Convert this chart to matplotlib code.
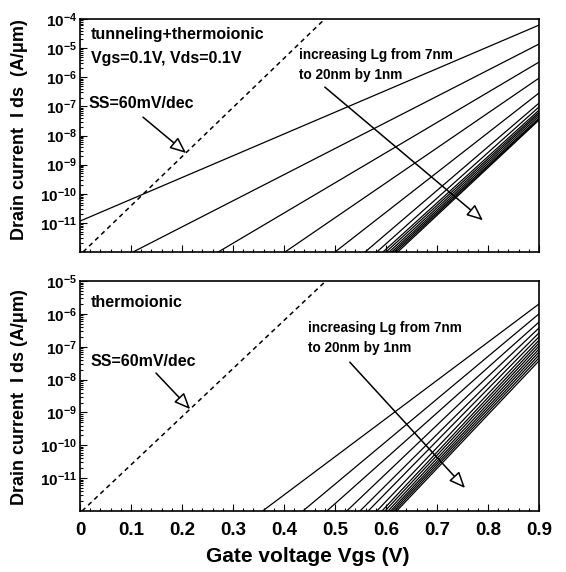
import numpy as np
import matplotlib
matplotlib.use('Agg')
import matplotlib.pyplot as plt
from matplotlib import font_manager
from matplotlib.ticker import (FixedLocator, FixedFormatter, MultipleLocator,
                               LogLocator, NullFormatter)

plt.rcParams['font.family'] = ['Liberation Sans', 'DejaVu Sans']
plt.rcParams['font.weight'] = 'bold'
plt.rcParams['mathtext.fontset'] = 'custom'
plt.rcParams['mathtext.rm'] = 'Liberation Sans:bold'
plt.rcParams['mathtext.bf'] = 'Liberation Sans:bold'
plt.rcParams['mathtext.it'] = 'Liberation Sans:bold:italic'

# ---------------- data ----------------
lg_nm = list(range(7, 21))          # gate length 7..20 nm
v_end = 0.9                         # right end of every curve (V)

# tunneling + thermoionic panel: start point of each straight log-line, value at 0.9 V
top_v_start = [0.0, 0.104, 0.271, 0.402, 0.500, 0.559, 0.582,
               0.594, 0.600, 0.606, 0.611, 0.615, 0.619, 0.623]
top_i_start = [1.15e-11, 1e-12, 1e-12, 1e-12, 1e-12, 1e-12, 1e-12,
               1e-12, 1e-12, 1e-12, 1e-12, 1e-12, 1e-12, 1e-12]
top_i_end = [6.17e-5, 1.38e-5, 3.31e-6, 9.33e-7, 2.88e-7, 1.29e-7, 9.55e-8,
             7.41e-8, 6.31e-8, 5.50e-8, 4.68e-8, 3.98e-8, 3.63e-8, 3.39e-8]

# thermoionic panel
bot_v_start = [0.358, 0.437, 0.484, 0.523, 0.549, 0.565, 0.582,
               0.592, 0.598, 0.604, 0.609, 0.613, 0.617, 0.621]
bot_i_start = [1e-12] * 14
bot_i_end = [2.00e-6, 1.00e-6, 5.62e-7, 3.72e-7, 2.63e-7, 2.00e-7, 1.58e-7,
             1.29e-7, 1.05e-7, 8.51e-8, 6.92e-8, 5.62e-8, 4.57e-8, 3.72e-8]

# SS = 60 mV/dec reference lines (dashed)
top_ss_v = [0.006, 0.480]
top_ss_i = [1e-12, 1e-4]
bot_ss_v = [0.004, 0.482]
bot_ss_i = [1e-12, 1e-5]

x_ticks = [0.0, 0.1, 0.2, 0.3, 0.4, 0.5, 0.6, 0.7, 0.8, 0.9]
x_labels = ['0', '0.1', '0.2', '0.3', '0.4', '0.5', '0.6', '0.7', '0.8', '0.9']
top_exps = [-11, -10, -9, -8, -7, -6, -5, -4]
bot_exps = [-11, -10, -9, -8, -7, -6, -5]

# narrow font for the "increasing Lg" notes, if available
_names = {f.name for f in font_manager.fontManager.ttflist}
if 'Liberation Sans Narrow' in _names:
    narrow_family = ['Liberation Sans Narrow', 'Liberation Sans']
    narrow_size = 11.3
else:
    narrow_family = ['Liberation Sans', 'DejaVu Sans']
    narrow_size = 9.8

# ---------------- figure ----------------
W, H = 566, 572
fig = plt.figure(figsize=(W / 100, H / 100), dpi=100)
fig.patch.set_facecolor('white')


def px_axes(left, top, right, bottom):
    return fig.add_axes([left / W, 1 - bottom / H, (right - left) / W, (bottom - top) / H])


ax_top = px_axes(80, 19, 539, 252)
ax_bot = px_axes(80, 281, 539, 511)


def style_axis(ax, ymin, ymax, exps, show_x):
    ax.set_xlim(0, 0.9)
    ax.set_yscale('log')
    ax.set_ylim(ymin, ymax)
    ax.xaxis.set_major_locator(FixedLocator(x_ticks))
    ax.xaxis.set_minor_locator(MultipleLocator(0.02))
    if show_x:
        ax.xaxis.set_major_formatter(FixedFormatter(x_labels))
    else:
        ax.xaxis.set_major_formatter(NullFormatter())
    ax.yaxis.set_major_locator(FixedLocator([10.0 ** e for e in exps]))
    ax.yaxis.set_major_formatter(FixedFormatter([r'$\mathbf{10^{%d}}$' % e for e in exps]))
    ax.yaxis.set_minor_locator(LogLocator(base=10, subs=np.arange(2, 10), numticks=50))
    ax.yaxis.set_minor_formatter(NullFormatter())
    ax.tick_params(which='both', direction='in', top=False, right=False, width=0.8)
    ax.tick_params(which='major', length=5)
    ax.tick_params(which='minor', length=2.5)
    ax.tick_params(axis='y', which='major', labelsize=11, pad=2)
    ax.tick_params(axis='x', which='major', labelsize=13.5, pad=8)
    for s in ax.spines.values():
        s.set_linewidth(1.2)


style_axis(ax_top, 1e-12, 1e-4, top_exps, False)
style_axis(ax_bot, 1e-12, 1e-5, bot_exps, True)

for vs, i0, i1 in zip(top_v_start, top_i_start, top_i_end):
    ax_top.plot([vs, v_end], [i0, i1], color='black', lw=0.9)
for vs, i0, i1 in zip(bot_v_start, bot_i_start, bot_i_end):
    ax_bot.plot([vs, v_end], [i0, i1], color='black', lw=0.9)

ax_top.plot(top_ss_v, top_ss_i, color='black', lw=1.1, dashes=(3, 2.5))
ax_bot.plot(bot_ss_v, bot_ss_i, color='black', lw=1.1, dashes=(3, 2.5))

arrow_kw = dict(arrowstyle='-|>,head_length=0.7,head_width=0.3', facecolor='white',
                edgecolor='black', lw=1.1, shrinkA=0, shrinkB=0, mutation_scale=14)
ax_top.annotate('', xy=(0.208, 2.5e-9), xytext=(0.1235, 4.27e-8), arrowprops=arrow_kw)
ax_top.annotate('', xy=(0.790, 1.23e-11), xytext=(0.480, 4.6e-7), arrowprops=arrow_kw)
ax_bot.annotate('', xy=(0.216, 1.26e-9), xytext=(0.149, 1.58e-8), arrowprops=arrow_kw)
ax_bot.annotate('', xy=(0.755, 5.0e-12), xytext=(0.529, 3.39e-8), arrowprops=arrow_kw)


def ftext(px, py, s, **kw):
    kw.setdefault('ha', 'left')
    kw.setdefault('va', 'center')
    kw.setdefault('fontweight', 'bold')
    fig.text(px / W, 1 - py / H, s, **kw)


ftext(91, 35, 'tunneling+thermoionic', fontsize=11.5)
ftext(91, 58, 'Vgs=0.1V, Vds=0.1V', fontsize=11.5)
ftext(89, 103, 'SS=60mV/dec', fontsize=11.5)
ftext(299, 55, 'increasing Lg from 7nm', fontsize=narrow_size, family=narrow_family)
ftext(299, 75, 'to 20nm by 1nm', fontsize=narrow_size, family=narrow_family)

ftext(91, 302, 'thermoionic', fontsize=11.5)
ftext(91, 362, 'SS=60mV/dec', fontsize=11.5)
ftext(308, 328, 'increasing Lg from 7nm', fontsize=narrow_size, family=narrow_family)
ftext(308, 348, 'to 20nm by 1nm', fontsize=narrow_size, family=narrow_family)

ftext(20, 130, 'Drain current  I ds  (A/\u03bcm)', fontsize=13, rotation=90, ha='center')
ftext(20, 397, 'Drain current  I ds (A/\u03bcm)', fontsize=13, rotation=90, ha='center')
ftext(308, 557, 'Gate voltage Vgs (V)', fontsize=15, ha='center')

fig.savefig('out.png', dpi=100, facecolor='white')
